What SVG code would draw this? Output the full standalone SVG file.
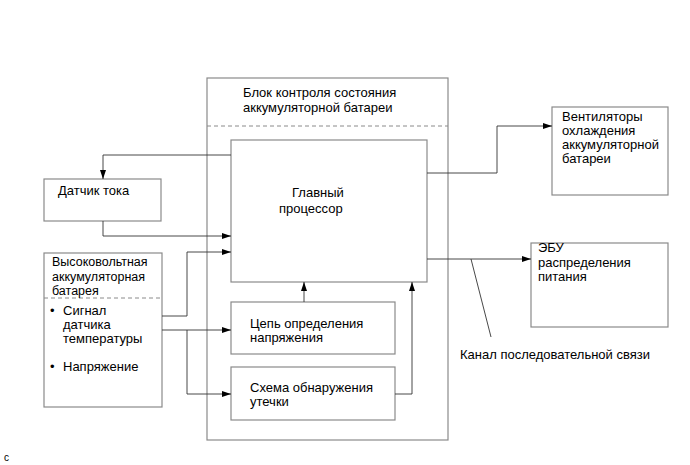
<svg xmlns="http://www.w3.org/2000/svg" width="690" height="465" viewBox="0 0 690 465">
<style>
.box{fill:none;stroke:#8a8a8a;stroke-width:1.2}
.dash{fill:none;stroke:#8a8a8a;stroke-width:1;stroke-dasharray:4,3}
.ln{fill:none;stroke:#333;stroke-width:0.9}
text{font-family:"Liberation Sans",Arial,sans-serif;font-size:13px;fill:#000}
</style>
<defs>
<marker id="ah" markerWidth="9" markerHeight="6" refX="9" refY="3" orient="auto" markerUnits="userSpaceOnUse">
<path d="M0,0 L9,3 L0,6 Z" fill="#000"/>
</marker>
</defs>
<rect width="690" height="465" fill="#fff"/>
<g id="bms">
<rect class="box" x="207" y="78" width="241" height="362"/>
<line class="dash" x1="207" y1="126" x2="448" y2="126"/>
<text x="243" y="97">Блок контроля состояния</text>
<text x="243" y="112">аккумуляторной батареи</text>
</g>
<g id="cpu">
<rect class="box" x="231" y="140" width="196" height="142"/>
<text x="292" y="197">Главный</text>
<text x="279" y="213">процессор</text>
</g>
<g id="voltage">
<rect class="box" x="231" y="302" width="164" height="52"/>
<text x="250" y="328">Цепь определения</text>
<text x="250" y="342">напряжения</text>
</g>
<g id="leak">
<rect class="box" x="231" y="367" width="164" height="53"/>
<text x="250" y="392">Схема обнаружения</text>
<text x="250" y="406">утечки</text>
</g>
<g id="current">
<rect class="box" x="44" y="179" width="117" height="42"/>
<text x="58" y="195">Датчик тока</text>
</g>
<g id="battery">
<rect class="box" x="44" y="253" width="118" height="154"/>
<line class="dash" x1="44" y1="298" x2="162" y2="298"/>
<text x="52" y="266" style="font-size:12.5px">Высоковольтная</text>
<text x="52" y="280.5" style="font-size:12.5px">аккумуляторная</text>
<text x="52" y="295" style="font-size:12.5px">батарея</text>
<text x="50" y="315">•</text>
<text x="63" y="315">Сигнал</text>
<text x="63" y="329">датчика</text>
<text x="63" y="343">температуры</text>
<text x="50" y="371">•</text>
<text x="63" y="371">Напряжение</text>
</g>
<g id="fans">
<rect class="box" x="552" y="107" width="116" height="88"/>
<text x="562" y="121">Вентиляторы</text>
<text x="562" y="135">охлаждения</text>
<text x="562" y="149">аккумуляторной</text>
<text x="562" y="163">батареи</text>
</g>
<g id="ecu">
<rect class="box" x="531" y="243" width="137" height="84"/>
<text x="538" y="252">ЭБУ</text>
<text x="538" y="267">распределения</text>
<text x="538" y="281">питания</text>
</g>
<g id="connectors">
<polyline class="ln" points="231,155 103,155 103,179" marker-end="url(#ah)"/>
<polyline class="ln" points="103,221 103,236 231,236" marker-end="url(#ah)"/>
<polyline class="ln" points="162,316 187,316 187,252 231,252" marker-end="url(#ah)"/>
<polyline class="ln" points="162,330 231,330" marker-end="url(#ah)"/>
<polyline class="ln" points="187,330 187,394 231,394" marker-end="url(#ah)"/>
<polyline class="ln" points="304,302 304,282" marker-end="url(#ah)"/>
<polyline class="ln" points="395,394 412,394 412,282" marker-end="url(#ah)"/>
<polyline class="ln" points="427,173 497,173 497,126 552,126" marker-end="url(#ah)"/>
<polyline class="ln" points="427,259 531,259" marker-end="url(#ah)"/>
<line class="ln" x1="471" y1="259" x2="491" y2="337"/>
</g>
<text x="460" y="359">Канал последовательной связи</text>
<text x="4" y="461" style="font-size:10px">c</text>
</svg>
